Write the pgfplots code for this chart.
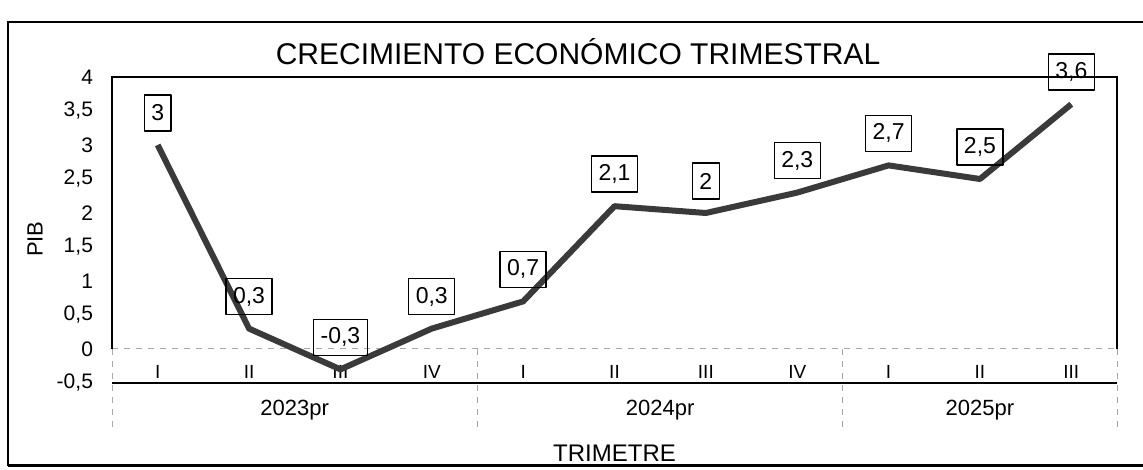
\documentclass[border=0pt]{standalone}
\usepackage{pgfplots}
\pgfplotsset{compat=1.18}
\usepackage{fontspec}
\setmainfont{Liberation Sans}
\definecolor{linec}{HTML}{3A3A3A}
\definecolor{dashc}{HTML}{A8A8A8}
\begin{document}
\begin{tikzpicture}
\begin{scope}[x=0.5pt,y=0.5pt]
\path[use as bounding box] (0,0) rectangle (1143,470);
\draw[line width=1.1pt] (8,4) -- (8,448) -- (1143,448);
\draw[line width=1.5pt] (8,4) -- (1143,4);
\node[font=\fontsize{15}{18}\selectfont] at (578,418) {CRECIMIENTO ECONÓMICO TRIMESTRAL};
\end{scope}
\begin{axis}[
  at={(56pt,43.5pt)}, anchor=south west,
  scale only axis, width=502.5pt, height=153pt,
  xmin=-0.5, xmax=10.5, ymin=-0.5, ymax=4,
  axis line style={draw=none},
  clip=false,
  xtick={0,...,10},
  xticklabels={I,II,III,IV,I,II,III,IV,I,II,III},
  ytick={-0.5,0,0.5,1,1.5,2,2.5,3,3.5,4},
  major tick length=0pt,
  tick style={draw=none},
  /pgf/number format/.cd, use comma, assume math mode=true, 1000 sep={},
  /pgfplots/.cd,
  yticklabel style={font=\fontsize{10.5}{12}\selectfont, xshift=-6pt},
  xticklabel style={font=\fontsize{9.5}{11}\selectfont, anchor=south, yshift=-1.5pt},
  ylabel={PIB},
  ylabel style={at={(axis description cs:-0.0766,0.47)}, anchor=center, font=\fontsize{11}{13}\selectfont},
]
\draw[dashc, dashed, line width=0.5pt] (axis cs:-0.5,0) -- (axis cs:10.5,0);
\draw[dashc, dashed, line width=0.5pt] (axis cs:-0.5,0) -- (axis cs:-0.5,-1.22);
\draw[dashc, dashed, line width=0.5pt] (axis cs:3.5,0) -- (axis cs:3.5,-1.22);
\draw[dashc, dashed, line width=0.5pt] (axis cs:7.5,0) -- (axis cs:7.5,-1.22);
\draw[dashc, dashed, line width=0.5pt] (axis cs:10.5,0) -- (axis cs:10.5,-1.22);
\draw[black, line width=1pt] (axis cs:-0.5,0) -- (axis cs:-0.5,4) -- (axis cs:10.5,4) -- (axis cs:10.5,0);
\draw[black, line width=1.2pt] (axis cs:-0.5,-0.5) -- (axis cs:10.5,-0.5);
\addplot[linec, line width=3pt, line join=round, mark=none,
  nodes near coords,
  every node near coord/.append style={anchor=center, yshift=16pt, draw=black, text=black,
    line width=0.7pt, font=\fontsize{11.5}{13}\selectfont, inner xsep=3.5pt, inner ysep=2pt,
    minimum height=18pt}]
  coordinates {(0,3)(1,0.3)(2,-0.3)(3,0.3)(4,0.7)(5,2.1)(6,2)(7,2.3)(8,2.7)(9,2.5)(10,3.6)};
\node[font=\fontsize{11}{13}\selectfont] at (axis cs:1.5,-0.9) {2023pr};
\node[font=\fontsize{11}{13}\selectfont] at (axis cs:5.5,-0.9) {2024pr};
\node[font=\fontsize{11}{13}\selectfont] at (axis cs:9,-0.9) {2025pr};
\node[font=\fontsize{12}{14}\selectfont] at (axis cs:5,-1.53) {TRIMETRE};
\end{axis}
\end{tikzpicture}
\end{document}
